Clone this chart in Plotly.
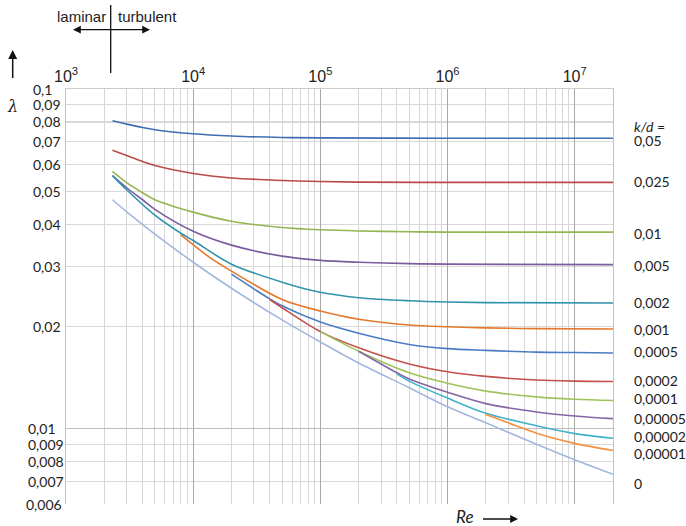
import math
import plotly.graph_objects as go

# ---------------- data ----------------
kd_labels = ["0,05", "0,025", "0,01", "0,005", "0,002", "0,001", "0,0005",
             "0,0002", "0,0001", "0,00005", "0,00002", "0,00001", "0"]

re_005 = [2320, 3000, 4000, 5000, 1e4, 2e4, 5e4, 1e5, 1e6, 2e7]
lam_005 = [0.0806, 0.0788, 0.0770, 0.0759, 0.0738, 0.0727, 0.0720, 0.0718, 0.0716, 0.0716]

re_0025 = [2320, 3000, 4000, 5000, 1e4, 2e4, 5e4, 1e5, 2e5, 1e6, 2e7]
lam_0025 = [0.0660, 0.0637, 0.0612, 0.0595, 0.0564, 0.0547, 0.0538, 0.0534, 0.0532, 0.0531, 0.0531]

re_001 = [2320, 3000, 4000, 5000, 1e4, 2e4, 5e4, 1e5, 2e5, 5e5, 1e6, 2e7]
lam_001 = [0.0572, 0.0530, 0.0495, 0.0472, 0.0434, 0.0408, 0.0391, 0.0385, 0.0382, 0.0380, 0.0379, 0.0379]

re_0005 = [2320, 3000, 4000, 5000, 1e4, 2e4, 5e4, 1e5, 2e5, 5e5, 1e6, 2e7]
lam_0005 = [0.0556, 0.0512, 0.0472, 0.0442, 0.0381, 0.0347, 0.0322, 0.0313, 0.0309, 0.0306, 0.0305, 0.0304]

re_0002 = [2320, 3000, 5000, 8000, 1e4, 2e4, 5e4, 1e5, 2e5, 5e5, 1e6, 2e6, 2e7]
lam_0002 = [0.0556, 0.0505, 0.0425, 0.0376, 0.0358, 0.0305, 0.0270, 0.0252, 0.0243, 0.0238, 0.0236, 0.0235, 0.02345]

re_0001 = [8000, 1e4, 1.4e4, 2e4, 5e4, 1e5, 2e5, 5e5, 1e6, 2e6, 5e6, 2e7]
lam_0001 = [0.0372, 0.0348, 0.0316, 0.0291, 0.0240, 0.0222, 0.0210, 0.0202, 0.01995, 0.0198, 0.0197, 0.01965]

re_00005 = [2e4, 3e4, 4e4, 5e4, 1e5, 2e5, 5e5, 1e6, 2e6, 5e6, 1e7, 2e7]
lam_00005 = [0.0285, 0.0258, 0.0241, 0.0230, 0.0206, 0.0191, 0.0177, 0.0172, 0.0170, 0.0168, 0.01675, 0.0167]

re_00002 = [4e4, 5e4, 1e5, 2e5, 5e5, 1e6, 2e6, 5e6, 1e7, 2e7]
lam_00002 = [0.0240, 0.0227, 0.0193, 0.0173, 0.0155, 0.0147, 0.01425, 0.0139, 0.0138, 0.01377]

re_00001 = [1e5, 2e5, 5e5, 1e6, 2e6, 5e6, 1e7, 2e7]
lam_00001 = [0.0193, 0.0169, 0.0146, 0.0136, 0.0129, 0.0124, 0.0122, 0.0121]

re_000005 = [2e5, 4e5, 5e5, 1e6, 2e6, 5e6, 1e7, 2e7]
lam_000005 = [0.0169, 0.0146, 0.0140, 0.0128, 0.01185, 0.0112, 0.0109, 0.0107]

re_000002 = [4e5, 5e5, 1e6, 2e6, 5e6, 1e7, 2e7]
lam_000002 = [0.0145, 0.0138, 0.0123, 0.0111, 0.0102, 0.00967, 0.00937]

re_000001 = [2e6, 3e6, 5e6, 1e7, 2e7]
lam_000001 = [0.0110, 0.0104, 0.0097, 0.00905, 0.00862]

re_smooth = [2320, 3000, 5000, 1e4, 2e4, 5e4, 1e5, 2e5, 5e5, 1e6, 2e6, 5e6, 1e7, 2e7]
lam_smooth = [0.0472, 0.0435, 0.0374, 0.0309, 0.0259, 0.0209, 0.0180, 0.0156, 0.0132, 0.0116, 0.0104, 0.0090, 0.0081, 0.00734]

x_tick_vals = [1e3, 1e4, 1e5, 1e6, 1e7]
x_tick_text = ["10<sup>3</sup>", "10<sup>4</sup>", "10<sup>5</sup>", "10<sup>6</sup>", "10<sup>7</sup>"]
y_tick_vals = [0.1, 0.09, 0.08, 0.07, 0.06, 0.05, 0.04, 0.03, 0.02, 0.01, 0.009, 0.008, 0.007, 0.006]
y_tick_text = ["0,1", "0,09", "0,08", "0,07", "0,06", "0,05", "0,04", "0,03", "0,02", "0,01", "0,009", "0,008", "0,007", "0,006"]

series = [
    (re_005, lam_005), (re_0025, lam_0025), (re_001, lam_001), (re_0005, lam_0005),
    (re_0002, lam_0002), (re_0001, lam_0001), (re_00005, lam_00005), (re_00002, lam_00002),
    (re_00001, lam_00001), (re_000005, lam_000005), (re_000002, lam_000002),
    (re_000001, lam_000001), (re_smooth, lam_smooth),
]
colors = ["#3F6EB2", "#B94A47", "#95B552", "#7A5C9E", "#2F93AC", "#E4782C", "#4A7CC3",
          "#C4504C", "#9DC35C", "#8564A8", "#40B2CC", "#F58F3F", "#A3B7DE"]

# ---------------- geometry ----------------
W, H = 686, 526
L, R, T, B = 66, 73, 89, 22
PW, PH = W - L - R, H - T - B


def pxx(xp):
    return (xp - L) / PW


def pxy(yp):
    return (H - B - yp) / PH


fig = go.Figure()
for (xs, ys), c in zip(series, colors):
    fig.add_trace(go.Scatter(x=xs, y=ys, mode="lines",
                             line=dict(color=c, width=1.6, shape="spline", smoothing=0.9),
                             hoverinfo="skip", showlegend=False))

minor_x = [m * 10 ** e for e in range(3, 8) for m in range(2, 10) if m * 10 ** e <= 2e7]
minor_y = [v for v in y_tick_vals if v != 0.01]

fig.update_layout(
    width=W, height=H,
    margin=dict(l=L, r=R, t=T, b=B),
    plot_bgcolor="white", paper_bgcolor="white",
    showlegend=False,
    xaxis=dict(type="log", range=[3, math.log10(2e7)], side="top",
               tickvals=x_tick_vals, ticktext=x_tick_text, ticks="",
               tickfont=dict(family="Liberation Sans", size=16, color="#222222"),
               showgrid=True, gridcolor="#a8a8a8", gridwidth=1,
               minor=dict(tickvals=minor_x, showgrid=True, gridcolor="#d6d6d6", ticks=""),
               showline=True, linecolor="#cccccc", mirror=False, zeroline=False,
               automargin=False),
    yaxis=dict(type="log", range=[math.log10(0.006), -1],
               tickvals=[0.01], showticklabels=False, ticks="",
               showgrid=True, gridcolor="#bcbcbc", gridwidth=1.3,
               minor=dict(tickvals=minor_y, showgrid=True, gridcolor="#d9d9d9", ticks=""),
               showline=True, linecolor="#c4c4c4", mirror=True, zeroline=False,
               automargin=False),
)

ann = []
# y tick labels (left-aligned groups as in the reference)
for v, t in zip(y_tick_vals, y_tick_text):
    xl = 31 if v >= 0.02 else (24 if v == 0.006 else 26)
    ann.append(dict(x=pxx(xl), xref="paper", y=math.log10(v), yref="y", text=t,
                    showarrow=False, xanchor="left", yanchor="middle",
                    font=dict(family="Lato", size=14, color="#222222")))

# right-hand k/d labels
label_y_px = [140, 181.7, 233, 265.7, 302.7, 329.3, 351, 380, 398.7, 418.3, 436.7, 453.3, 483.3]
for t, yp in zip(kd_labels, label_y_px):
    ann.append(dict(x=pxx(632), xref="paper", y=pxy(yp), yref="paper", text=t,
                    showarrow=False, xanchor="left", yanchor="middle",
                    font=dict(family="Lato", size=14, color="#222222")))
ann.append(dict(x=pxx(632), xref="paper", y=pxy(126), yref="paper", text="<i>k/d</i> =",
                showarrow=False, xanchor="left", yanchor="middle",
                font=dict(family="Lato", size=14, color="#222222")))

# laminar / turbulent
ann.append(dict(x=pxx(108), xref="paper", y=pxy(17), yref="paper", text="laminar",
                showarrow=False, xanchor="right", yanchor="middle",
                font=dict(family="Liberation Sans", size=15, color="#222222")))
ann.append(dict(x=pxx(116), xref="paper", y=pxy(17), yref="paper", text="turbulent",
                showarrow=False, xanchor="left", yanchor="middle",
                font=dict(family="Liberation Sans", size=15, color="#222222")))
# double arrow
ann.append(dict(x=pxx(150), xref="paper", y=pxy(29.7), yref="paper", ax=-80, ay=0,
                text=" ", showarrow=True, arrowhead=2, startarrowhead=2, arrowside="end+start",
                arrowsize=1.2, arrowwidth=1.3, arrowcolor="#111111"))
# lambda arrow and label
ann.append(dict(x=pxx(12.7), xref="paper", y=pxy(50), yref="paper", ax=0, ay=38,
                text=" ", showarrow=True, arrowhead=2, arrowsize=1.2, arrowwidth=1.5,
                arrowcolor="#111111"))
ann.append(dict(x=pxx(12.5), xref="paper", y=pxy(106), yref="paper", text="<i>λ</i>",
                showarrow=False, xanchor="center", yanchor="middle",
                font=dict(family="DejaVu Serif", size=16, color="#222222")))
# Re label and arrow
ann.append(dict(x=pxx(476), xref="paper", y=pxy(516), yref="paper", text="<i>Re</i>",
                showarrow=False, xanchor="right", yanchor="middle",
                font=dict(family="Lato", size=17, color="#222222")))
ann.append(dict(x=pxx(518), xref="paper", y=pxy(519), yref="paper", ax=-38, ay=0,
                text=" ", showarrow=True, arrowhead=2, arrowsize=1.2, arrowwidth=1.3,
                arrowcolor="#111111"))
fig.update_layout(annotations=ann)

# laminar/turbulent divider
fig.add_shape(type="line", xref="paper", yref="paper",
              x0=pxx(110.7), x1=pxx(110.7), y0=pxy(5), y1=pxy(73),
              line=dict(color="#111111", width=1.3))

fig.write_html("out.html",
               config={"displayModeBar": False, "staticPlot": True},
               post_script="document.body.style.margin='0';document.body.style.padding='0';"
                           "document.documentElement.style.overflow='hidden';")
